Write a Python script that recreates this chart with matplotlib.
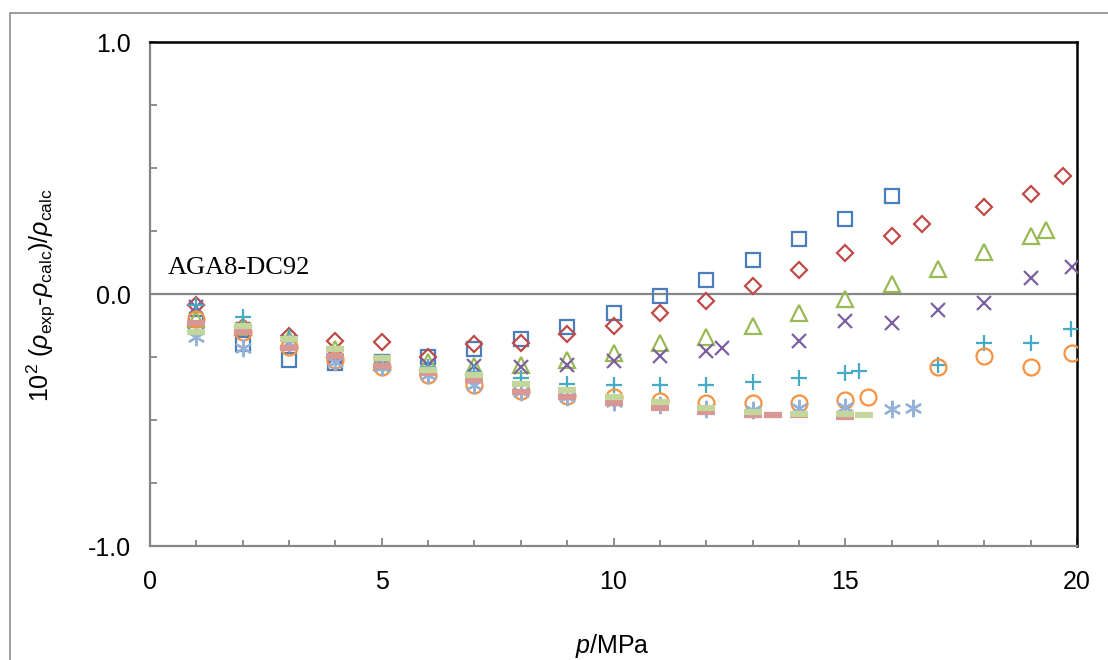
import numpy as np
import matplotlib.pyplot as plt
from matplotlib.patches import Rectangle

plt.rcParams['font.family'] = ['Liberation Sans', 'DejaVu Sans']
plt.rcParams['mathtext.fontset'] = 'custom'
plt.rcParams['mathtext.rm'] = 'Liberation Sans'
plt.rcParams['mathtext.it'] = 'Liberation Sans:italic'

# data (p in MPa, 10^2 relative deviation)
p_sq = [1, 2, 3, 4, 5, 6, 7, 8, 9, 10, 11, 12, 13, 14, 15, 16]
d_sq = [-0.115, -0.20, -0.26, -0.275, -0.27, -0.25, -0.22, -0.18, -0.13, -0.075,
        -0.008, 0.056, 0.135, 0.217, 0.298, 0.39]

p_di = [1, 2, 3, 4, 5, 6, 7, 8, 9, 10, 11, 12, 13, 14, 15, 16, 16.66, 18, 19, 19.7]
d_di = [-0.045, -0.13, -0.165, -0.186, -0.19, -0.25, -0.20, -0.195, -0.16, -0.127,
        -0.075, -0.028, 0.032, 0.097, 0.162, 0.23, 0.278, 0.345, 0.397, 0.468]

p_tri = [1, 2, 3, 4, 5, 6, 7, 8, 9, 10, 11, 12, 13, 14, 15, 16, 17, 18, 19, 19.33]
d_tri = [-0.10, -0.13, -0.18, -0.22, -0.27, -0.27, -0.285, -0.28, -0.26, -0.233,
         -0.195, -0.17, -0.125, -0.076, -0.02, 0.04, 0.10, 0.165, 0.23, 0.254]

p_x = [1, 2, 3, 4, 5, 6, 7, 8, 9, 10, 11, 12, 12.35, 14, 15, 16, 17, 18, 19, 19.9]
d_x = [-0.05, -0.14, -0.19, -0.25, -0.28, -0.28, -0.285, -0.29, -0.28, -0.265,
       -0.245, -0.227, -0.215, -0.186, -0.108, -0.114, -0.063, -0.036, 0.065, 0.108]

p_pl = [1, 2, 3, 4, 5, 6, 7, 8, 9, 10, 11, 12, 13, 14, 15, 15.3, 17, 18, 19, 19.87]
d_pl = [-0.045, -0.09, -0.17, -0.24, -0.27, -0.29, -0.31, -0.335, -0.357, -0.363,
        -0.362, -0.362, -0.35, -0.333, -0.313, -0.307, -0.28, -0.194, -0.194, -0.14]

p_ci = [1, 2, 3, 4, 5, 6, 7, 8, 9, 10, 11, 12, 13, 14, 15, 15.5, 17, 18, 19, 19.9]
d_ci = [-0.10, -0.15, -0.21, -0.26, -0.29, -0.32, -0.36, -0.385, -0.405, -0.41,
        -0.425, -0.433, -0.433, -0.432, -0.42, -0.41, -0.29, -0.245, -0.29, -0.235]

p_as = [1, 2, 3, 4, 5, 6, 7, 8, 9, 10, 11, 12, 13, 14, 15, 16, 16.47]
d_as = [-0.17, -0.215, -0.195, -0.27, -0.29, -0.32, -0.36, -0.39, -0.41, -0.43,
        -0.44, -0.455, -0.46, -0.453, -0.45, -0.457, -0.452]

p_pk = [1, 2, 3, 4, 5, 6, 7, 8, 9, 10, 11, 12, 13, 13.45, 14, 15]
d_pk = [-0.115, -0.15, -0.215, -0.246, -0.285, -0.315, -0.34, -0.39, -0.41, -0.433,
        -0.453, -0.47, -0.48, -0.48, -0.48, -0.49]

p_gd = [1, 2, 3, 4, 5, 6, 7, 8, 9, 10, 11, 12, 13, 14, 15, 15.4]
d_gd = [-0.15, -0.126, -0.18, -0.22, -0.253, -0.30, -0.32, -0.357, -0.38, -0.41,
        -0.43, -0.453, -0.47, -0.475, -0.478, -0.48]

fig = plt.figure(figsize=(11.08, 6.6), dpi=100)
ax = fig.add_axes([150/1108, 1-546/660, 927/1108, 504/660])

# chart border
fig.patches.append(Rectangle((10/1108, -0.2), 1.2, 1-13/660+0.2, transform=fig.transFigure,
                             fill=False, edgecolor='#8c8c8c', lw=1.2))

ax.axhline(0, color='#868686', lw=1.6, zorder=1)

kw = dict(ls='none', mfc='none', zorder=3)
ax.plot(p_sq, d_sq, marker='s', ms=10.5, mec='#4a7ebb', mew=1.6, **kw)
ax.plot(p_di, d_di, marker='D', ms=8.5, mec='#be4b48', mew=1.6, **kw)
ax.plot(p_tri, d_tri, marker='^', ms=11.5, mec='#98b954', mew=1.6, **kw)
ax.plot(p_x, d_x, marker='x', ms=10.5, mec='#7d60a0', mew=1.6, **kw)
ax.plot(p_pl, d_pl, marker='+', ms=11.5, mec='#46aac5', mew=1.6, **kw)
ax.plot(p_ci, d_ci, marker='o', ms=11.5, mec='#f69240', mew=1.6, **kw)
ax.plot(p_as, d_as, marker=(6, 2, 0), ms=12.5, mec='#94b2d7', mew=1.6, **kw)
ax.plot(p_pk, d_pk, marker='_', ms=13, mec='#d99694', mew=4.5, **kw)
ax.plot(p_gd, d_gd, marker='_', ms=13, mec='#c3d69b', mew=4.5, **kw)

ax.set_xlim(0, 20)
ax.set_ylim(-1, 1)
ax.set_xticks([0, 5, 10, 15, 20])
ax.set_xticks(np.arange(0, 21, 1), minor=True)
ax.set_yticks([-1, 0, 1])
ax.set_yticklabels(['-1.0', '0.0', '1.0'])
ax.set_yticks(np.arange(-1, 1.01, 0.25), minor=True)
ax.tick_params(axis='both', which='both', direction='in', color='#868686', width=1.3,
               labelsize=18)
ax.tick_params(axis='x', which='major', length=6, pad=17)
ax.tick_params(axis='x', which='minor', length=4)
ax.tick_params(axis='y', which='both', length=5, pad=14)

for s in ['left', 'bottom']:
    ax.spines[s].set_color('#868686')
    ax.spines[s].set_linewidth(1.6)
for s in ['top', 'right']:
    ax.spines[s].set_color('black')
    ax.spines[s].set_linewidth(1.8)

ax.text(0.39, 0.103, 'AGA8-DC92', family='Liberation Serif', fontsize=19, va='center')

fig.text(612/1108, 1-646/660, r'$p$/MPa', fontsize=18, ha='center', va='center')
fig.text(41/1108, 1-295/660,
         r'10$^2$ ($\rho_{\rm exp}$-$\rho_{\rm calc}$)/$\rho_{\rm calc}$',
         fontsize=18, rotation=90, ha='center', va='center')

fig.savefig('out.png', dpi=100)
